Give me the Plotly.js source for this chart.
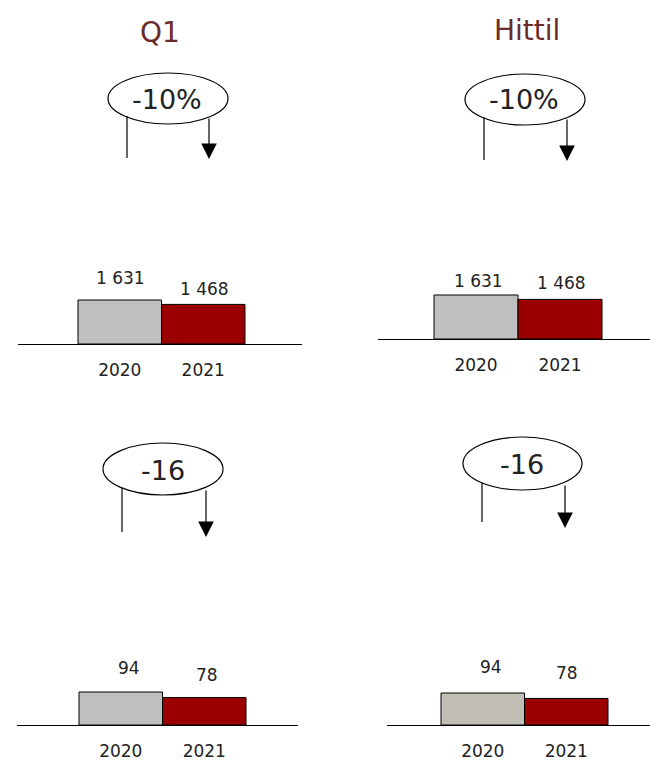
<!DOCTYPE html>
<html>
<head>
<meta charset="utf-8">
<script src="https://cdn.plot.ly/plotly-3.0.1.min.js"></script>
<style>html,body{margin:0;padding:0;background:#fff;}#chart{width:650px;height:761px;}</style>
</head>
<body>
<div id="chart"></div>
<script>
// ---- data ----
const years = ['2020', '2021'];
const columnTitles = ['Q1', 'Hittil'];
const q1Top = [1631, 1468];
const ytdTop = [1631, 1468];
const q1Bottom = [94, 78];
const ytdBottom = [94, 78];

// ---- helpers ----
const W = 650, H = 761;
const px = x => x / W;
const py = y => 1 - y / H;
const fmt = v => String(v).replace(/\B(?=(\d{3})+(?!\d))/g, ' ');
const pctChange = v => Math.round((v[1] - v[0]) / v[0] * 100) + '%';
const absChange = v => String(v[1] - v[0]);

const FONT = 'DejaVu Sans, Verdana, sans-serif';
const RED = '#9a0000';

// layout positions per panel (pixels)
const panels = [
  {values: q1Top, change: pctChange(q1Top), gray: '#c0c0c0',
   xd: [18, 302], xr: [-1.219, 2.183], yd: [190, 344], barPx: 44,
   ell: [108, 228, 73, 124], chg: [167, 99], lineL: [127, 116, 158], arrow: [209, 117, 159],
   shifts: [[1, 22], [1.5, 15]]},
  {values: ytdTop, change: pctChange(ytdTop), gray: '#c0c0c0',
   xd: [378, 650], xr: [-1.167, 2.071], yd: [190, 339], barPx: 44,
   ell: [465, 585, 74, 125], chg: [524, 100], lineL: [484, 117, 160], arrow: [567, 118, 161],
   shifts: [[2, 14], [1, 16]]},
  {values: q1Bottom, change: absChange(q1Bottom), gray: '#c0c0c0',
   xd: [17, 298], xr: [-1.2425, 2.1228], yd: [600, 725], barPx: 33,
   ell: [103, 223, 443, 495], chg: [163, 470], lineL: [122, 488, 532], arrow: [206, 489, 537],
   shifts: [[8, 24], [3, 23]]},
  {values: ytdBottom, change: absChange(ytdBottom), gray: '#c1beb6',
   xd: [387, 650], xr: [-1.1467, 2.003], yd: [600, 725], barPx: 32,
   ell: [463, 582, 437, 490], chg: [522, 464], lineL: [482, 483, 522], arrow: [565, 484, 528],
   shifts: [[8, 26], [1, 25]]}
];

const traces = [];
const layout = {
  width: W, height: H,
  margin: {l: 0, r: 0, t: 0, b: 0},
  paper_bgcolor: '#fff', plot_bgcolor: 'rgba(0,0,0,0)',
  showlegend: false, bargap: 0,
  font: {family: FONT, color: '#222'},
  shapes: [], annotations: []
};

panels.forEach((p, i) => {
  const n = i === 0 ? '' : String(i + 1);
  traces.push({
    type: 'bar', x: years, y: p.values,
    xaxis: 'x' + n, yaxis: 'y' + n,
    width: 1,
    marker: {color: [p.gray, RED], line: {color: '#000', width: 1}},
    hoverinfo: 'skip'
  });
  const yTop = (p.yd[1] - p.yd[0]) * p.values[0] / p.barPx;
  layout['xaxis' + n] = {
    domain: [px(p.xd[0]), px(p.xd[1])], anchor: 'y' + n,
    type: 'category', range: p.xr, fixedrange: true,
    showgrid: false, zeroline: false,
    showline: true, linecolor: '#000', linewidth: 1,
    ticks: 'outside', ticklen: 11, tickcolor: 'rgba(0,0,0,0)',
    tickfont: {family: FONT, size: 17, color: '#222'}
  };
  layout['yaxis' + n] = {
    domain: [py(p.yd[1]), py(p.yd[0])], anchor: 'x' + n,
    range: [0, yTop], visible: false, fixedrange: true
  };
  // value labels (category index used as position)
  years.forEach((yr, j) => {
    layout.annotations.push({
      xref: 'x' + n, yref: 'y' + n, x: j, y: p.values[j],
      text: fmt(p.values[j]), showarrow: false,
      xshift: p.shifts[j][0], yshift: p.shifts[j][1],
      yanchor: 'middle', xanchor: 'center',
      font: {family: FONT, size: 17, color: '#222'}
    });
  });
  // connector line (left)
  layout.shapes.push({
    type: 'line', xref: 'paper', yref: 'paper', layer: 'above',
    x0: px(p.lineL[0]), x1: px(p.lineL[0]), y0: py(p.lineL[1]), y1: py(p.lineL[2]),
    line: {color: '#000', width: 1.2}
  });
  // ellipse
  layout.shapes.push({
    type: 'circle', xref: 'paper', yref: 'paper', layer: 'above',
    x0: px(p.ell[0]), x1: px(p.ell[1]), y0: py(p.ell[3]), y1: py(p.ell[2]),
    line: {color: '#000', width: 1.2}, fillcolor: 'rgba(255,255,255,0)'
  });
  // change text
  layout.annotations.push({
    xref: 'paper', yref: 'paper', x: px(p.chg[0]), y: py(p.chg[1]),
    text: p.change, showarrow: false, xanchor: 'center', yanchor: 'middle',
    font: {family: FONT, size: 27, color: '#222'}
  });
  // arrow (right)
  layout.annotations.push({
    xref: 'paper', yref: 'paper', x: px(p.arrow[0]), y: py(p.arrow[2]),
    ax: 0, ay: -(p.arrow[2] - p.arrow[1]), text: '',
    showarrow: true, arrowhead: 2, arrowsize: 2.6, arrowwidth: 1.2, arrowcolor: '#000'
  });
});

// column titles
[[160, 32], [527, 31]].forEach((c, k) => {
  layout.annotations.push({
    xref: 'paper', yref: 'paper', x: px(c[0]), y: py(c[1]),
    text: columnTitles[k], showarrow: false, xanchor: 'center', yanchor: 'middle',
    font: {family: FONT, size: 28, color: '#6b2b2b'}
  });
});

Plotly.newPlot('chart', traces, layout, {displayModeBar: false, staticPlot: true});
</script>
</body>
</html>
